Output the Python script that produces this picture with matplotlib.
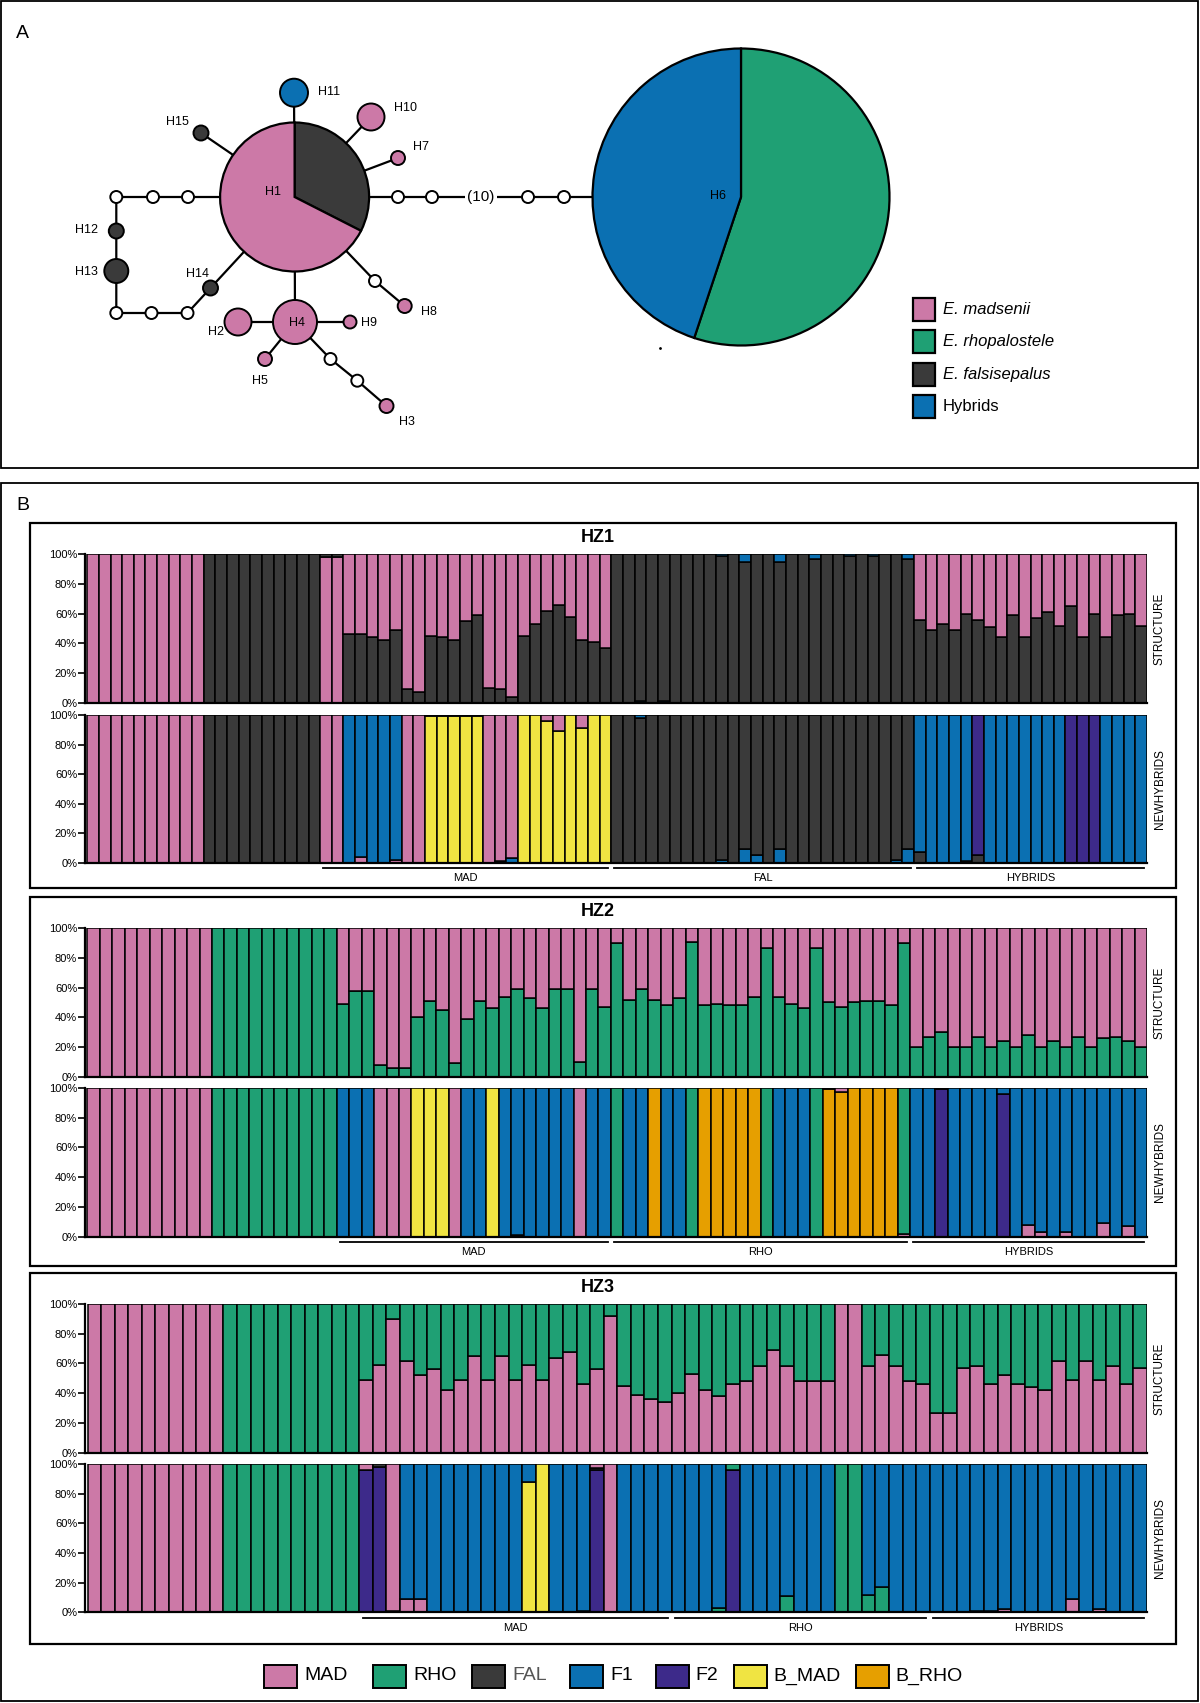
import matplotlib
matplotlib.use('Agg')
import matplotlib.pyplot as plt
from matplotlib.patches import Rectangle, Circle, Wedge

plt.rcParams['font.family'] = ['Liberation Sans', 'DejaVu Sans']

W, H = 1200, 1703

colors = {'MAD': '#CC79A7', 'RHO': '#1FA074', 'FAL': '#3A3A3A', 'F1': '#0B70B2',
          'F2': '#3D2A8A', 'B_MAD': '#F0E442', 'B_RHO': '#E69F00'}
codes = {'M': 'MAD', 'R': 'RHO', 'D': 'FAL', '1': 'F1', '2': 'F2', 'Y': 'B_MAD', 'O': 'B_RHO'}

# ---------------- panel A: haplotype network ----------------
# pie composition of the two big haplotypes (clockwise from top)
h1_parts = [('FAL', 32.5), ('MAD', 67.5)]
h6_parts = [('RHO', 55.1), ('F1', 44.9)]

hap_names = ['H2', 'H3', 'H4', 'H5', 'H7', 'H8', 'H9', 'H10', 'H11', 'H12', 'H13', 'H14', 'H15']
hap_group = ['MAD', 'MAD', 'MAD', 'MAD', 'MAD', 'MAD', 'MAD', 'MAD', 'F1', 'FAL', 'FAL', 'FAL', 'FAL']
hap_radius = [13.5, 7, 22, 7, 7, 7, 6.5, 13.5, 14, 7.5, 12, 7.5, 7.5]

# network layout (pixel positions)
layout = {'H1': (294.6, 197), 'H6': (741, 197), 'H2': (238, 322), 'H3': (386.5, 406),
          'H4': (295, 322), 'H5': (265, 359), 'H7': (398, 158), 'H8': (404.7, 306),
          'H9': (350, 322), 'H10': (371, 117), 'H11': (294, 92.7), 'H12': (116.3, 231),
          'H13': (116.3, 271), 'H14': (210.5, 288), 'H15': (201, 133),
          'm1': (398, 197), 'm2': (432, 197), 'm3': (528, 197), 'm4': (564, 197),
          'm5': (116.3, 197), 'm6': (153, 197), 'm7': (188, 197),
          'm8': (116.3, 313), 'm9': (151.5, 313), 'm10': (187.5, 313),
          'm11': (375, 281), 'm12': (330.5, 359), 'm13': (357.3, 380.7)}
label_pos = {'H1': (273, 192), 'H6': (718, 196), 'H2': (216, 332), 'H3': (407, 422),
             'H4': (297, 323), 'H5': (260, 381), 'H7': (421, 147), 'H8': (428.5, 312),
             'H9': (369.5, 323), 'H10': (405.5, 108), 'H11': (329, 92), 'H12': (86, 230),
             'H13': (86, 272), 'H14': (197.5, 274), 'H15': (177.5, 122)}
paths = [['H1', 'm1', 'm2', 'm3', 'm4', 'H6'],
         ['H1', 'm7', 'm6', 'm5', 'H12', 'H13', 'm8', 'm9', 'm10', 'H14', 'H1'],
         ['H1', 'H15'], ['H1', 'H11'], ['H1', 'H10'], ['H1', 'H7'],
         ['H1', 'm11', 'H8'], ['H1', 'H4'], ['H4', 'H2'], ['H4', 'H9'], ['H4', 'H5'],
         ['H4', 'm12', 'm13', 'H3']]
median_nodes = ['m1', 'm2', 'm3', 'm4', 'm5', 'm6', 'm7', 'm8', 'm9', 'm10', 'm11', 'm12', 'm13']

legend_a = [('E. madsenii', 'MAD'), ('E. rhopalostele', 'RHO'),
            ('E. falsisepalus', 'FAL'), ('Hybrids', 'F1')]

# ---------------- panel B: STRUCTURE / NEWHYBRIDS ----------------
# STRUCTURE: share of the lower cluster (rest goes to the upper cluster)
hz1_str_low = [0, 0, 0, 0, 0, 0, 0, 0, 0, 0,
               100, 100, 100, 100, 100, 100, 100, 100, 100, 100,
               0, 0,
               46, 46, 44, 42, 49, 9, 7, 45, 44, 42, 55, 59, 10, 9, 4, 45, 53, 62, 66, 58, 42, 41, 37,
               100, 100, 99, 100, 99, 100, 100, 100, 100, 99, 100, 95, 100, 100, 95, 100, 100, 97,
               100, 100, 99, 100, 99, 100, 100, 97,
               56, 49, 53, 49, 60, 56, 51, 44, 59, 44, 57, 61, 52, 65, 44, 60, 44, 59, 60, 52]
hz1_str_minor = [(20, 'FAL', 2, 'top'), (21, 'FAL', 2, 'top'), (47, 'F1', 1, 'bottom'),
                 (49, 'F1', 1, 'bottom'), (54, 'F1', 1, 'top'), (56, 'F1', 5, 'top'),
                 (59, 'F1', 5, 'top'), (62, 'F1', 3, 'top'), (65, 'F1', 1, 'top'),
                 (67, 'F1', 1, 'top'), (70, 'F1', 3, 'top')]
hz1_nh_class = ("MMMMMMMMMM" "DDDDDDDDDD" "MM" "11111" "MM" "YYYYY" "MMM" "YYYYYYYY"
                "DDDDDDDDDDDDDDDDDDDDDDDDDD" "11111" "2" "1111111" "222" "1111")
hz1_nh_minor = [(23, 'MAD', 4, 'bottom'), (26, 'MAD', 2, 'bottom'),
                (29, 'MAD', 1, 'top'), (30, 'MAD', 1, 'top'), (31, 'MAD', 1, 'top'),
                (32, 'MAD', 1, 'top'), (33, 'MAD', 1, 'top'), (35, 'FAL', 1, 'bottom'),
                (36, 'F1', 3, 'bottom'), (39, 'MAD', 4, 'top'), (40, 'MAD', 11, 'top'),
                (42, 'MAD', 9, 'top'), (47, 'F1', 2, 'top'), (54, 'F1', 2, 'bottom'),
                (56, 'F1', 9, 'bottom'), (57, 'F1', 5, 'bottom'), (59, 'F1', 9, 'bottom'),
                (69, 'F1', 2, 'bottom'), (70, 'F1', 9, 'bottom'), (71, 'FAL', 7, 'bottom'),
                (75, 'FAL', 1, 'bottom'), (76, 'FAL', 5, 'bottom')]
hz1_groups = [('MAD', 20, 44), ('FAL', 45, 70), ('HYBRIDS', 71, 90)]

hz2_str_low = [0, 0, 0, 0, 0, 0, 0, 0, 0, 0,
               100, 100, 100, 100, 100, 100, 100, 100, 100, 100,
               49, 58, 58, 8, 6, 6, 40, 51, 45, 9, 39, 51, 46, 54, 59, 53, 46, 59, 59, 10, 59, 47,
               90, 52, 59, 52, 48, 53, 91, 48, 49, 48, 48, 54, 87, 54, 49, 46, 87, 50, 47, 50,
               51, 51, 48, 90,
               20, 27, 30, 20, 20, 27, 20, 24, 20, 28, 20, 24, 20, 27, 20, 26, 27, 24, 20]
hz2_str_minor = []
hz2_nh_class = ("MMMMMMMMMM" "RRRRRRRRRR" "111" "MMM" "YYY" "M" "11" "Y" "111111" "M" "11"
                "R" "11" "O" "11" "R" "OOOOO" "R" "111" "R" "OOOOOO" "R"
                "11" "2" "1111" "2" "11111111111")
hz2_nh_minor = [(34, 'FAL', 1, 'bottom'), (59, 'MAD', 1, 'top'), (60, 'MAD', 3, 'top'),
                (65, 'MAD', 2, 'bottom'), (68, 'FAL', 1, 'top'), (73, 'F1', 4, 'top'),
                (75, 'MAD', 8, 'bottom'), (76, 'MAD', 3, 'bottom'), (78, 'MAD', 3, 'bottom'),
                (81, 'MAD', 9, 'bottom'), (83, 'MAD', 7, 'bottom')]
hz2_groups = [('MAD', 20, 41), ('RHO', 42, 65), ('HYBRIDS', 66, 84)]

hz3_str_low = [100, 100, 100, 100, 100, 100, 100, 100, 100, 100,
               0, 0, 0, 0, 0, 0, 0, 0, 0, 0,
               49, 59, 90, 62, 52, 56, 42, 49, 65, 49, 65, 49, 59, 49, 64, 68, 46, 56, 92, 45,
               39, 36, 34,
               40, 53, 42, 38, 46, 48, 58, 69, 58, 48, 48, 48, 100, 100, 58, 66, 58, 48, 46,
               27, 27, 57, 58, 46, 52, 46, 44, 42, 62, 49, 62, 49, 58, 46, 57]
hz3_str_minor = []
hz3_nh_class = ("MMMMMMMMMM" "RRRRRRRRRR" "22" "M" "111111111" "YY" "111" "2" "M" "1111"
                "1111" "2" "1111111" "RR" "11111"
                "1111111111111111")
hz3_nh_minor = [(20, 'MAD', 4, 'top'), (21, 'FAL', 2, 'top'), (22, 'FAL', 1, 'bottom'),
                (23, 'MAD', 9, 'bottom'), (24, 'MAD', 9, 'bottom'), (32, 'F1', 12, 'top'),
                (36, 'FAL', 1, 'bottom'), (37, 'FAL', 1, 'top'), (37, 'MAD', 3, 'top'),
                (46, 'RHO', 3, 'bottom'), (47, 'RHO', 4, 'top'), (51, 'RHO', 11, 'bottom'),
                (57, 'RHO', 12, 'bottom'), (58, 'RHO', 17, 'bottom'), (65, 'MAD', 1, 'bottom'),
                (66, 'MAD', 1, 'bottom'), (67, 'MAD', 2, 'bottom'), (72, 'MAD', 9, 'bottom'),
                (74, 'MAD', 2, 'bottom')]
hz3_groups = [('MAD', 20, 42), ('RHO', 43, 61), ('HYBRIDS', 62, 77)]

legend_b = ['MAD', 'RHO', 'FAL', 'F1', 'F2', 'B_MAD', 'B_RHO']


def px_axes(fig, x0, y0, x1, y1):
    return fig.add_axes([x0 / W, 1 - y1 / H, (x1 - x0) / W, (y1 - y0) / H])


def split_minor(minor, i):
    bot = [(c, v) for (j, c, v, p) in minor if j == i and p == 'bottom']
    top = [(c, v) for (j, c, v, p) in minor if j == i and p == 'top']
    return bot, top


def draw_stack(ax, stacks, side_label):
    n = len(stacks)
    for i, segs in enumerate(stacks):
        b = 0
        for cls, v in segs:
            if v <= 0:
                continue
            ax.bar(i, v, bottom=b, width=1.0, color=colors[cls], edgecolor='black', linewidth=1.1)
            b += v
    ax.set_xlim(-0.65, n - 0.5)
    ax.set_ylim(0, 100)
    ax.set_yticks([0, 20, 40, 60, 80, 100])
    ax.set_yticklabels(['0%', '20%', '40%', '60%', '80%', '100%'], fontsize=8)
    ax.set_xticks([])
    ax.tick_params(axis='y', length=5, width=1.2, pad=1)
    for s in ['top', 'right']:
        ax.spines[s].set_visible(False)
    for s in ['left', 'bottom']:
        ax.spines[s].set_linewidth(1.6)
    ax.text(1.012, 0.5, side_label, transform=ax.transAxes, rotation=90,
            ha='center', va='center', fontsize=8.5)


def structure_stacks(low, low_cls, top_cls, minor):
    out = []
    for i, lv in enumerate(low):
        bot, top = split_minor(minor, i)
        rest = 100 - lv - sum(v for _, v in bot + top)
        out.append(bot + [(low_cls, lv), (top_cls, rest)] + top)
    return out


def nh_stacks(classes, minor):
    out = []
    for i, code in enumerate(classes):
        bot, top = split_minor(minor, i)
        main = 100 - sum(v for _, v in bot + top)
        out.append(bot + [(codes[code], main)] + top)
    return out


fig = plt.figure(figsize=(W / 100, H / 100), dpi=100)
ov = fig.add_axes([0, 0, 1, 1], zorder=5)
ov.set_xlim(0, W)
ov.set_ylim(H, 0)
ov.axis('off')
ov.patch.set_visible(False)

# outer frames
for (x0, y0, x1, y1) in [(1, 1, 1198, 468), (1, 483, 1198, 1701)]:
    ov.add_patch(Rectangle((x0, y0), x1 - x0, y1 - y0, fill=False, lw=1.3, ec='black'))
ov.text(16, 33, 'A', fontsize=14, va='center')
ov.text(16, 505, 'B', fontsize=14, va='center')

# network edges
for p in paths:
    xs = [layout[k][0] for k in p]
    ys = [layout[k][1] for k in p]
    ov.plot(xs, ys, color='black', lw=1.6, zorder=1, solid_capstyle='butt')
ov.text(481, 197, '(10)', fontsize=11, ha='center', va='center', zorder=2,
        bbox=dict(facecolor='white', edgecolor='none', pad=2))


def pie(center, r, parts):
    start = -90
    for cls, frac in parts:
        end = start + 360 * frac / 100
        ov.add_patch(Wedge(center, r, start, end, facecolor=colors[cls], edgecolor='black',
                           lw=1.6, zorder=3))
        start = end


pie(layout['H1'], 74.5, h1_parts)
pie(layout['H6'], 148.5, h6_parts)
for name, grp, r in zip(hap_names, hap_group, hap_radius):
    ov.add_patch(Circle(layout[name], r, facecolor=colors[grp], edgecolor='black', lw=1.4, zorder=3))
for m in median_nodes:
    ov.add_patch(Circle(layout[m], 6, facecolor='white', edgecolor='black', lw=1.4, zorder=3))
for name, (lx, ly) in label_pos.items():
    ov.text(lx, ly, name, fontsize=9, ha='center', va='center', zorder=4)
ov.plot([660], [348], marker='.', ms=2, color='black')

for k, (txt, cls) in enumerate(legend_a):
    yc = 309 + k * 32.5
    ov.add_patch(Rectangle((913, yc - 11.5), 22, 23, facecolor=colors[cls], edgecolor='black', lw=1.6))
    ov.text(943, yc, txt, fontsize=12, va='center', style='normal' if txt == 'Hybrids' else 'italic')

# hybrid zone panels
zones = [
    ('HZ1', structure_stacks(hz1_str_low, 'FAL', 'MAD', hz1_str_minor),
     nh_stacks(hz1_nh_class, hz1_nh_minor), hz1_groups, (523, 888), (554.3, 702.7), (715, 862.7)),
    ('HZ2', structure_stacks(hz2_str_low, 'RHO', 'MAD', hz2_str_minor),
     nh_stacks(hz2_nh_class, hz2_nh_minor), hz2_groups, (897, 1266), (928.3, 1076.7), (1088, 1236.7)),
    ('HZ3', structure_stacks(hz3_str_low, 'MAD', 'RHO', hz3_str_minor),
     nh_stacks(hz3_nh_class, hz3_nh_minor), hz3_groups, (1273, 1644), (1304, 1452.7), (1464, 1612.3)),
]

for title, st, nh, groups, box, sy, ny in zones:
    ov.add_patch(Rectangle((30, box[0]), 1146, box[1] - box[0], fill=False, lw=1.6, ec='black'))
    ov.text(598, box[0] + 14, title, fontsize=13, fontweight='bold', ha='center', va='center')
    ax1 = px_axes(fig, 85.5, sy[0], 1147, sy[1])
    draw_stack(ax1, st, 'STRUCTURE')
    ax2 = px_axes(fig, 85.5, ny[0], 1147, ny[1])
    draw_stack(ax2, nh, 'NEWHYBRIDS')
    tr = ax2.get_xaxis_transform()
    for name, i0, i1 in groups:
        ax2.plot([i0 - 0.25, i1 + 0.25], [-0.037, -0.037], transform=tr, color='black',
                 lw=1.3, clip_on=False)
        ax2.text((i0 + i1) / 2, -0.105, name, transform=tr, ha='center', va='center', fontsize=8)

# bottom legend
leg_x = [264, 373, 472, 570, 655.5, 733.5, 855.5]
for x, cls in zip(leg_x, legend_b):
    ov.add_patch(Rectangle((x, 1664.5), 33, 23, facecolor=colors[cls], edgecolor='black', lw=1.4))
    ov.text(x + 40, 1676, cls, fontsize=14, va='center',
            color='#555555' if cls == 'FAL' else 'black')

fig.savefig('out.png', dpi=100)
